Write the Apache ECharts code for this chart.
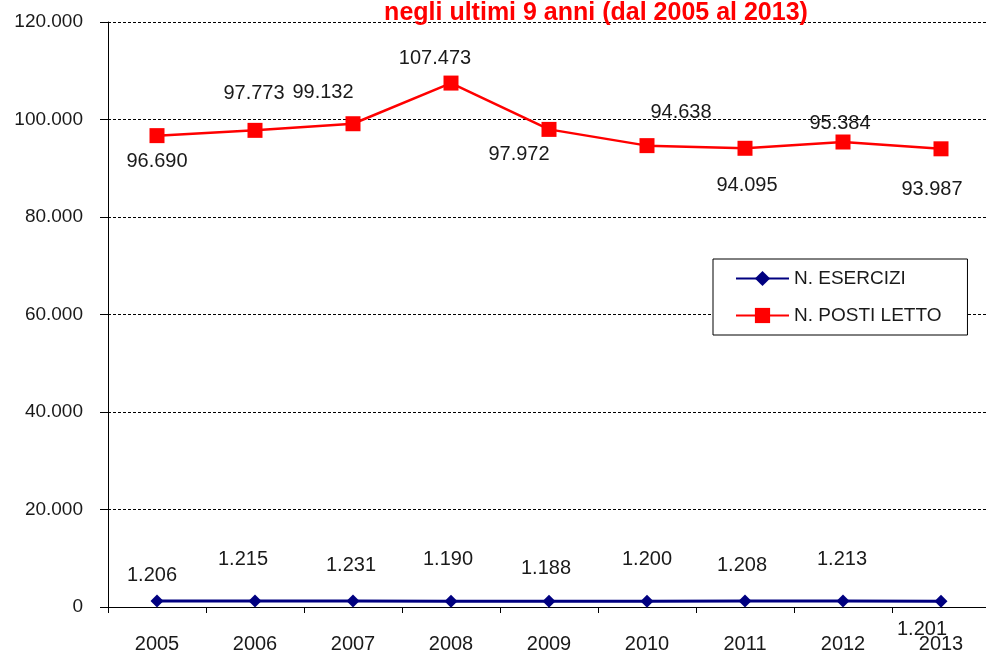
<!DOCTYPE html>
<html>
<head>
<meta charset="utf-8">
<script src="https://cdn.jsdelivr.net/npm/echarts@6/dist/echarts.min.js"></script>
<style>
  html, body { margin: 0; padding: 0; background: #fff; }
  #chart { width: 986px; height: 652px; }
</style>
</head>
<body>
<div id="chart"></div>
<script>
const anni = ['2005', '2006', '2007', '2008', '2009', '2010', '2011', '2012', '2013']
const esercizi = [1206, 1215, 1231, 1190, 1188, 1200, 1208, 1213, 1201]
const postiLetto = [96690, 97773, 99132, 107473, 97972, 94638, 94095, 95384, 93987]

// spostamento delle etichette rispetto al punto (come nel grafico originale)
const eserciziLabelOffset = [[-5, -26], [-12, -42], [-2, -36], [-3, -42], [-3, -33], [0, -42], [-3, -36], [-1, -42], [-19, 28]]
const postiLabelOffset = [[0, 26], [-1, -37], [-30, -31], [-16, -25], [-30, 25], [34, -33], [2, 37], [-3, -19], [-9, 41]]

const font = 'Liberation Sans, Arial, sans-serif'
const textColor = '#1a1a1a'

// formato italiano: 107473 -> 107.473
const fmt = v => String(v).replace(/\B(?=(\d{3})+(?!\d))/g, '.')

const withLabels = (values, offsets) => values.map((v, i) => ({
  value: v,
  label: { offset: offsets[i] }
}))

const chart = echarts.init(document.getElementById('chart'))
const option = {
  backgroundColor: '#fff',
  animation: false,
  title: {
    text: 'negli ultimi 9 anni (dal 2005 al 2013)',
    left: 596,
    top: 1,
    textAlign: 'center',
    padding: 0,
    textStyle: {
      color: '#ff0000',
      fontFamily: font,
      fontWeight: 'bold',
      fontSize: 25
    }
  },
  legend: {
    orient: 'vertical',
    left: 713,
    top: 259,
    padding: [10, 26, 10, 22],
    itemGap: 18,
    itemWidth: 53,
    itemHeight: 19,
    backgroundColor: '#fff',
    borderColor: '#000',
    borderWidth: 1,
    borderRadius: 0,
    textStyle: {
      fontFamily: font,
      fontSize: 19,
      color: textColor
    },
    data: ['N. ESERCIZI', 'N. POSTI LETTO']
  },
  grid: {
    left: 108,
    top: 22,
    width: 882,
    bottom: 45,
    containLabel: false,
    outerBoundsMode: 'none'
  },
  xAxis: {
    type: 'category',
    data: anni,
    boundaryGap: true,
    axisLine: { lineStyle: { color: '#000', width: 1 } },
    axisTick: { show: true, length: 6, lineStyle: { color: '#000' } },
    axisLabel: {
      margin: 27,
      fontFamily: font,
      fontSize: 20,
      color: textColor
    }
  },
  yAxis: {
    type: 'value',
    min: 0,
    max: 120000,
    interval: 20000,
    axisLine: { show: true, lineStyle: { color: '#000', width: 1 } },
    axisTick: { show: true, length: 8, lineStyle: { color: '#000' } },
    axisLabel: {
      margin: 25,
      fontFamily: font,
      fontSize: 19,
      color: textColor,
      formatter: v => fmt(v)
    },
    splitLine: {
      show: true,
      lineStyle: { color: '#000', width: 1, type: [3, 2] }
    }
  },
  series: [
    {
      name: 'N. ESERCIZI',
      type: 'line',
      data: withLabels(esercizi, eserciziLabelOffset),
      symbol: 'diamond',
      symbolSize: 13,
      itemStyle: { color: '#000080' },
      lineStyle: { color: '#000080', width: 3 },
      label: {
        show: true,
        position: 'inside',
        fontFamily: font,
        fontSize: 20,
        color: textColor,
        formatter: p => fmt(p.value)
      },
      z: 3
    },
    {
      name: 'N. POSTI LETTO',
      type: 'line',
      data: withLabels(postiLetto, postiLabelOffset),
      symbol: 'rect',
      symbolSize: 15,
      itemStyle: { color: '#ff0000' },
      lineStyle: { color: '#ff0000', width: 2.5 },
      label: {
        show: true,
        position: 'inside',
        fontFamily: font,
        fontSize: 20,
        color: textColor,
        formatter: p => fmt(p.value)
      },
      z: 4
    }
  ]
}
chart.setOption(option)
</script>
</body>
</html>
